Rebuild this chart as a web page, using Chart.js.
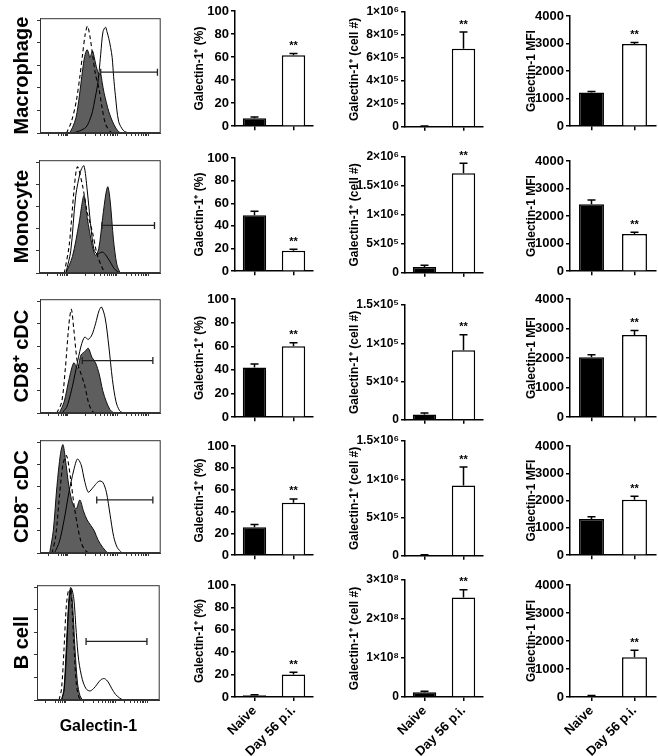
<!DOCTYPE html>
<html><head><meta charset="utf-8">
<script src="https://cdn.jsdelivr.net/npm/chart.js@4.4.0/dist/chart.umd.min.js"></script>
<style>
html,body{margin:0;padding:0;background:#fff;}
body{position:relative;width:658px;height:756px;overflow:hidden;}
canvas{position:absolute;}
</style></head><body>
<script>
// ---------------- DATA ----------------
const rowNames = ['Macrophage', 'Monocyte', 'CD8⁺ cDC', 'CD8⁻ cDC', 'B cell'];
const groups = ['Naive', 'Day 56 p.i.'];
const stars = ['', '**'];

const pctMean = [[7, 61.5], [49.5, 18], [42, 60], [25.5, 48], [1.5, 20]];
const pctErr  = [[1, 1.5], [3.5, 1.5], [3, 3], [2.5, 3.5], [0.6, 2]];
const cellMean = [[5e3, 6.8e5], [1e5, 1.72e6], [7e3, 9.1e4], [1e4, 9.2e5], [1.2e7, 2.55e8]];
const cellErr  = [[3e3, 1.45e5], [3e4, 1.7e5], [2e3, 2e4], [5e3, 2.4e5], [3e6, 2e7]];
const mfiMean = [[1220, 2980], [2430, 1350], [2030, 2780], [1330, 2030], [40, 1420]];
const mfiErr  = [[40, 60], [150, 60], [80, 150], [80, 130], [15, 250]];

const pctTicks = [0, 20, 40, 60, 80, 100];
const pctTickLabels = ['0', '20', '40', '60', '80', '100'];
const mfiTicks = [0, 1000, 2000, 3000, 4000];
const mfiTickLabels = ['0', '1000', '2000', '3000', '4000'];
const cellTicks = [
  [0, 2e5, 4e5, 6e5, 8e5, 1e6],
  [0, 5e5, 1e6, 1.5e6, 2e6],
  [0, 5e4, 1e5, 1.5e5],
  [0, 5e5, 1e6, 1.5e6],
  [0, 1e8, 2e8, 3e8]
];
const cellTickLabels = [
  ['0', '2×10⁵', '4×10⁵', '6×10⁵', '8×10⁵', '1×10⁶'],
  ['0', '5×10⁵', '1×10⁶', '1.5×10⁶', '2×10⁶'],
  ['0', '5×10⁴', '1×10⁵', '1.5×10⁵'],
  ['0', '5×10⁵', '1×10⁶', '1.5×10⁶'],
  ['0', '1×10⁸', '2×10⁸', '3×10⁸']
];

// histogram curves: [channel (0-100), % of max]
const histIso = [
  [[22,0],[26,10],[30,28],[33,50],[35.3,70],[37.5,88],[39.4,95],[41.5,85],[43.5,70],[46,52],[48.9,39],[51.5,22],[54.3,8],[58.4,1],[61,0]],
  [[20.8,0],[24.8,25],[28.8,75],[31.5,96],[35.6,80],[39.6,55],[43.7,38],[47.7,17],[51.8,5],[54.4,0]],
  [[14,0],[18,10],[21,40],[24,80],[26,93],[28,75],[31,45],[34,35],[37,25],[40,10],[43,2],[46,0]],
  [[10,0],[13,15],[16,50],[19,80],[22,88],[25,70],[28,45],[31,25],[34,10],[37,3],[40,0]],
  [[18,0],[20,10],[22,45],[24,85],[26,98],[28,90],[30,50],[32,15],[34,3],[36,0]]
];
const histNaive = [
  [[24.5,0],[27,5],[29.9,14],[32.5,32],[35.3,56],[37,68],[38.9,74],[40,72],[41.3,67],[42.4,70],[43.5,73],[44.8,68],[46.2,61],[48.4,53],[50.3,52],[51.5,45],[53,36],[55,27],[57,19],[61,8],[65.2,1],[68,0]],
  [[22.1,0],[27.5,15],[32.9,45],[36.9,70],[39.6,50],[43.7,25],[46.4,16],[49.1,22],[52.3,50],[55,72],[56.6,78],[58.5,65],[61.2,30],[63.9,8],[66.6,0]],
  [[16,0],[20,10],[24,30],[28,45],[31,40],[34,52],[37,55],[40,58],[43,50],[46,45],[49,35],[52,20],[55,10],[58,3],[61,0]],
  [[8,0],[11,20],[14,60],[17,90],[19,98],[21,85],[24,60],[27,45],[30,40],[33,48],[36,38],[39,30],[42,25],[45,20],[48,12],[52,5],[56,0]],
  [[20,0],[22,10],[24,50],[26,90],[27.5,100],[29,85],[31,45],[33,15],[35,4],[37,0]]
];
const histDay56 = [
  [[27.2,0],[33,2],[38,5],[41,11],[43.5,19],[45.5,30],[47.6,42],[49,55],[50.3,70],[52.2,90],[54.3,94],[55.5,90],[57,84],[58.5,76],[59.8,67],[61,50],[62.5,33],[65.2,10],[69.3,2],[73.4,0]],
  [[22.1,0],[26.1,20],[30.2,70],[34.2,92],[36.9,97],[39.6,75],[42.3,45],[45,22],[47.7,17],[51.8,19],[54.4,17],[58.5,10],[62.5,3],[66.6,0]],
  [[18,0],[22,5],[26,20],[30,40],[34,60],[37,68],[40,66],[43,70],[46,80],[49,92],[51,95],[54,85],[57,60],[60,30],[63,10],[66,2],[69,0]],
  [[12,0],[16,10],[20,30],[24,55],[28,75],[31,85],[34,80],[37,65],[40,55],[43,58],[46,62],[49,65],[52,64],[55,55],[58,35],[61,15],[64,5],[68,0]],
  [[20,0],[22,8],[24,40],[26,85],[28,99],[30,90],[32,60],[34,35],[37,18],[40,10],[43,8],[46,10],[49,14],[52,18],[55,19],[58,16],[61,10],[64,5],[67,2],[70,0]]
];
// gate: [start, end, height]
const histGate = [[50.3, 97.3, 54], [51.8, 94.9, 43], [35, 93.5, 47], [47, 93.5, 48], [40, 89.6, 52]];
const histXTicks = [6.8, 15, 17.5, 19.5, 21, 22.2, 23.1, 38, 45.8, 50.3, 53.5, 56, 58.1, 59.8, 61.3, 62.6, 63.9, 71.7, 76.2, 79.4, 81.9, 84, 85.7, 87.2, 88.5, 89.7];
const histYTicks = [0, 20, 40, 60, 80, 100];

// ---------------- LAYOUT (pixels) ----------------
const histBox = [[40,15,163,133],[39,157,163,273],[40,296,163,413],[40,437,163,553],[37,582,162,700]];
const colX = { pct: [235, 313], cell: [405, 483], mfi: [570, 656] };
const rowY = {
  pct:  [[11,128],[158,273],[299,419],[446,557],[585,697]],
  cell: [[12,128],[157,274],[305,421],[441,557],[580,697]],
  mfi:  [[16,128],[161,273],[299,419],[446,557],[585,697]]
};

const FONT = "'Liberation Sans', Arial, Helvetica, sans-serif";
Chart.defaults.font.family = FONT;
Chart.defaults.font.weight = 'bold';
Chart.defaults.color = '#000';

function makeCanvas(left, top, w, h) {
  const c = document.createElement('canvas');
  c.width = w; c.height = h;
  c.style.left = left + 'px'; c.style.top = top + 'px';
  c.style.width = w + 'px'; c.style.height = h + 'px';
  document.body.appendChild(c);
  return c;
}

const errPlugin = {
  id: 'errbars',
  afterDatasetsDraw(chart) {
    const ds = chart.data.datasets[0];
    if (!ds.errs) return;
    const meta = chart.getDatasetMeta(0);
    const ys = chart.scales.y;
    const ctx = chart.ctx;
    ctx.save();
    ctx.strokeStyle = '#000';
    ctx.lineWidth = 1.5;
    meta.data.forEach((el, i) => {
      const top = ys.getPixelForValue(ds.data[i] + ds.errs[i]);
      ctx.beginPath();
      ctx.moveTo(el.x, el.y);
      ctx.lineTo(el.x, top);
      ctx.moveTo(el.x - 4, top);
      ctx.lineTo(el.x + 4, top);
      ctx.stroke();
      if (ds.stars[i]) {
        ctx.font = 'bold 11px ' + FONT;
        ctx.textAlign = 'center';
        ctx.textBaseline = 'bottom';
        ctx.fillStyle = '#000';
        ctx.fillText(ds.stars[i], el.x, top - 2);
      }
    });
    ctx.restore();
  }
};

const boxPlugin = {
  id: 'box',
  afterDraw(chart) {
    if (!chart.options.plugins.box || !chart.options.plugins.box.on) return;
    const a = chart.chartArea, ctx = chart.ctx;
    ctx.save();
    ctx.strokeStyle = '#333';
    ctx.lineWidth = 1;
    ctx.strokeRect(a.left + 0.5, a.top + 0.5, a.right - a.left - 1, a.bottom - a.top - 1);
    ctx.restore();
  }
};
Chart.register(errPlugin, boxPlugin);

function barChart(area, o) {
  const padTop = 10, padRight = 2;
  const left = area[0] - o.axisW, top = area[1] - padTop;
  const w = area[2] - area[0] + o.axisW + padRight;
  const h = area[3] - area[1] + padTop + o.xH;
  const cv = makeCanvas(left, top, w, h);
  new Chart(cv, {
    type: 'bar',
    data: {
      labels: groups,
      datasets: [{
        data: o.mean, errs: o.err, stars: stars,
        backgroundColor: ['#000', '#fff'], borderColor: '#000', borderWidth: 1.5,
        categoryPercentage: 1, barPercentage: o.barPct
      }]
    },
    options: {
      responsive: false, animation: false, devicePixelRatio: 1,
      layout: { padding: { top: padTop, right: padRight, left: 0, bottom: 0 } },
      plugins: { legend: { display: false }, tooltip: { enabled: false } },
      scales: {
        x: {
          grid: { display: true, drawOnChartArea: false, offset: false, tickLength: 4, color: '#000', lineWidth: 1.5 },
          border: { color: '#000', width: 1.5 },
          ticks: { maxRotation: 45, minRotation: 45, padding: 2, font: { size: 13, weight: 'bold' }, color: '#000',
                   callback: (v, i) => o.showX ? groups[i] : '' },
          afterFit: (s) => { s.height = o.xH; }
        },
        y: {
          min: 0, max: o.ticks[o.ticks.length - 1],
          afterBuildTicks: (s) => { s.ticks = o.ticks.map(v => ({ value: v })); },
          afterFit: (s) => { s.width = o.axisW; },
          grid: { display: true, drawOnChartArea: false, tickLength: 4, color: '#000', lineWidth: 1.5 },
          border: { color: '#000', width: 1.5 },
          ticks: { padding: 2, font: { size: o.tickSize, weight: 'bold' }, color: '#000',
                   callback: (v) => o.labels[o.ticks.indexOf(v)] },
          title: { display: true, text: o.title, font: { size: 12, weight: 'bold' }, color: '#000',
                   padding: { top: o.titlePad, bottom: 0 } }
        }
      }
    }
  });
}

function histChart(r) {
  const [bl, bt, br, bb] = histBox[r];
  const last = r === 4;
  const padTop = 4;
  const xH = last ? 48 : 8;
  const top = bt - padTop;
  const w = br + 3;
  const h = bb - bt + padTop + xH;
  const cv = makeCanvas(0, top, w, h);
  const g = histGate[r];
  const toXY = arr => arr.map(p => ({ x: p[0], y: p[1] }));
  new Chart(cv, {
    type: 'line',
    data: {
      datasets: [
        { data: [{ x: g[0], y: g[2] }, { x: g[1], y: g[2] }], borderColor: '#222', borderWidth: 1.3,
          pointStyle: 'line', pointRotation: 90, pointRadius: 3.5, pointBorderWidth: 1.3, pointBorderColor: '#222', fill: false },
        { data: toXY(histIso[r]), borderColor: '#000', borderWidth: 1.1, borderDash: [4, 3], pointRadius: 0, tension: 0.3, fill: false },
        { data: toXY(histDay56[r]), borderColor: '#000', borderWidth: 1, pointRadius: 0, tension: 0.3, fill: false },
        { data: toXY(histNaive[r]), borderColor: '#111', borderWidth: 1, backgroundColor: '#5e5e5e', pointRadius: 0, tension: 0.3, fill: 'origin' }
      ]
    },
    options: {
      responsive: false, animation: false, devicePixelRatio: 1,
      layout: { padding: { top: padTop, right: 3, left: 0, bottom: 0 } },
      plugins: { legend: { display: false }, tooltip: { enabled: false }, box: { on: true } },
      scales: {
        x: {
          type: 'linear', min: 0, max: 100,
          afterBuildTicks: (s) => { s.ticks = histXTicks.map(v => ({ value: v })); },
          afterFit: (s) => { s.height = xH; },
          grid: { display: true, drawOnChartArea: false, tickLength: 3, color: '#333', lineWidth: 1 },
          border: { color: '#333', width: 1 },
          ticks: { callback: () => '', padding: 0 },
          title: { display: last, text: 'Galectin-1', font: { size: 16, weight: 'bold' }, color: '#000', padding: { top: 0, bottom: 12 } }
        },
        y: {
          type: 'linear', min: 0, max: 102,
          afterBuildTicks: (s) => { s.ticks = histYTicks.map(v => ({ value: v })); },
          afterFit: (s) => { s.width = bl; },
          grid: { display: true, drawOnChartArea: false, tickLength: 3, color: '#333', lineWidth: 1 },
          border: { color: '#333', width: 1 },
          ticks: { callback: () => '', padding: 0 },
          title: { display: true, text: rowNames[r], font: { size: 20, weight: 'bold' }, color: '#000', padding: { top: 10, bottom: 0 } }
        }
      }
    }
  });
}

for (let r = 0; r < 5; r++) {
  const last = r === 4;
  const xH = last ? 72 : 8;
  histChart(r);
  barChart([colX.pct[0], rowY.pct[r][0], colX.pct[1], rowY.pct[r][1]], {
    mean: pctMean[r], err: pctErr[r], ticks: pctTicks, labels: pctTickLabels,
    title: 'Galectin-1⁺ (%)', axisW: 70, titlePad: 27.8, xH: xH, showX: last, barPct: 0.6, tickSize: 13
  });
  barChart([colX.cell[0], rowY.cell[r][0], colX.cell[1], rowY.cell[r][1]], {
    mean: cellMean[r], err: cellErr[r], ticks: cellTicks[r], labels: cellTickLabels[r],
    title: 'Galectin-1⁺ (cell #)', axisW: 80, titlePad: 22.8, xH: xH, showX: last, barPct: 0.6, tickSize: 12
  });
  barChart([colX.mfi[0], rowY.mfi[r][0], colX.mfi[1], rowY.mfi[r][1]], {
    mean: mfiMean[r], err: mfiErr[r], ticks: mfiTicks, labels: mfiTickLabels,
    title: 'Galectin-1 MFI', axisW: 60, titlePad: 14.8, xH: xH, showX: last, barPct: 0.58, tickSize: 13
  });
}
</script>
</body></html>
